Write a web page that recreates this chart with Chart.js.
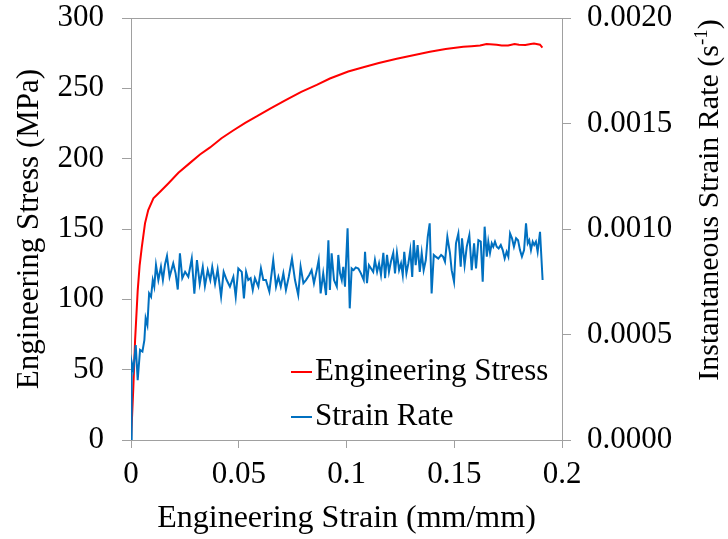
<!DOCTYPE html>
<html>
<head>
<meta charset="utf-8">
<script src="https://cdn.jsdelivr.net/npm/chart.js@4/dist/chart.umd.min.js"></script>
<style>
  html, body { margin: 0; padding: 0; background: #fff; }
  #chart { display: block; }
</style>
</head>
<body>
<canvas id="chart" width="728" height="539"></canvas>
<script>
// stress-strain curve (MPa vs mm/mm)
const stressStrain = [0, 0.0005, 0.0011, 0.0019, 0.0031, 0.004, 0.005, 0.0065, 0.008, 0.0104, 0.0135, 0.0173, 0.022, 0.0274, 0.032, 0.0367, 0.042, 0.0474, 0.053, 0.0583, 0.065, 0.0722, 0.079, 0.0862, 0.0923, 0.1008, 0.1078, 0.115, 0.1233, 0.131, 0.1387, 0.146, 0.1542, 0.158, 0.162, 0.165, 0.1697, 0.172, 0.175, 0.178, 0.18, 0.183, 0.1855, 0.187, 0.1898, 0.1909];
const stress = [0, 17, 38, 71, 106, 124, 137, 154, 163.5, 171.8, 176.5, 182.4, 190, 197, 203, 208, 214.5, 220, 225.5, 230, 236, 242, 247.5, 252.5, 257, 262, 265, 268, 271, 273.5, 276, 278, 279.5, 280, 280.5, 281.5, 281, 280.5, 280.5, 281.5, 281, 280.8, 281.5, 281.8, 281, 279];

// instantaneous strain rate (1/s)
const rateStrain = [
  0, 0.0003, 0.0011, 0.0022, 0.0031, 0.0042, 0.0053, 0.0062, 0.0068, 0.0076, 0.0084, 0.0093, 0.0101, 0.0108, 0.0116, 0.0127, 0.0139, 0.0148, 0.0158, 0.0167, 0.0179, 0.0196, 0.0207, 0.0217, 0.0227, 0.0238, 0.0251, 0.0266, 0.0282, 0.0294, 0.0306, 0.0319, 0.0333, 0.0343, 0.0356, 0.0368, 0.0377, 0.0390, 0.0402, 0.0418, 0.0430, 0.0444,
  0.0459, 0.0475, 0.0486, 0.0498, 0.0514, 0.0524, 0.0534, 0.0544, 0.0555, 0.0565, 0.0575, 0.0591, 0.0603, 0.0614, 0.0626, 0.0642, 0.0660, 0.0673, 0.0684, 0.0695, 0.0707, 0.0719, 0.0732, 0.0747, 0.0761, 0.0776, 0.0787, 0.0800, 0.0812, 0.0827, 0.0838, 0.0849, 0.0862, 0.0871, 0.0880, 0.0892, 0.0905, 0.0916, 0.0923, 0.0931, 0.0942, 0.0955, 0.0962, 0.0970,
  0.0978, 0.0985, 0.0993, 0.1005, 0.1015, 0.1024, 0.1033, 0.1043, 0.1055, 0.1067, 0.1080, 0.1086, 0.1095, 0.1104, 0.1114, 0.1124, 0.1132, 0.1142, 0.1151, 0.1160, 0.1171, 0.1179, 0.1188, 0.1197, 0.1206, 0.1217, 0.1225, 0.1234, 0.1244, 0.1253, 0.1261, 0.1268, 0.1278, 0.1287, 0.1296, 0.1305, 0.1312, 0.1321, 0.1330, 0.1340, 0.1349, 0.1358, 0.1368, 0.1377, 0.1386, 0.1395, 0.1405, 0.1414, 0.1426, 0.1439, 0.1448,
  0.1457, 0.1468, 0.1480, 0.1488, 0.1499, 0.1508, 0.1519, 0.1530, 0.1536, 0.1548, 0.1558, 0.1570, 0.1581, 0.1592, 0.1601, 0.1612, 0.1623, 0.1632, 0.1641, 0.1651, 0.1658, 0.1666, 0.1674, 0.1681, 0.1689, 0.1697, 0.1706, 0.1716, 0.1725, 0.1734, 0.1743, 0.1751, 0.1759, 0.1768, 0.1777, 0.1787, 0.1796, 0.1805, 0.1814, 0.1824, 0.1833, 0.1841, 0.1848, 0.1856, 0.1864, 0.1871, 0.1879, 0.1887, 0.1898, 0.1910
];
const rate = [
  0, 0.000371, 0.000332, 0.00045, 0.000284, 0.000427, 0.000419, 0.000473, 0.000577, 0.000545, 0.000695, 0.000679, 0.000758, 0.000727, 0.000829, 0.000758, 0.000821, 0.000758, 0.000833, 0.000872, 0.000773, 0.000837, 0.00079, 0.000713, 0.000885, 0.000767, 0.000797, 0.000773, 0.00086, 0.000693, 0.000853, 0.00074, 0.00082, 0.00073, 0.000805, 0.000758, 0.00082, 0.00074, 0.000809, 0.00068, 0.000797, 0.000758,
  0.000727, 0.000773, 0.000679, 0.000813, 0.000797, 0.000671, 0.000797, 0.000758, 0.000767, 0.000711, 0.000767, 0.000727, 0.000813, 0.000758, 0.000758, 0.000703, 0.000853, 0.000727, 0.000773, 0.000727, 0.00079, 0.000711, 0.000773, 0.00086, 0.000758, 0.000687, 0.000821, 0.000743, 0.000758, 0.000782, 0.000805, 0.000743, 0.000805, 0.000853, 0.000695, 0.00079, 0.000687, 0.000947, 0.000711, 0.000885, 0.000758, 0.000727, 0.000877, 0.00079,
  0.000758, 0.000821, 0.000727, 0.001003, 0.000624, 0.000813, 0.000805, 0.000818, 0.000813, 0.00079, 0.000758, 0.000892, 0.000743, 0.000829, 0.000813, 0.000797, 0.000853, 0.000797, 0.000837, 0.000782, 0.000887, 0.000767, 0.000877, 0.000797, 0.000845, 0.000887, 0.00079, 0.000887, 0.000805, 0.000837, 0.000782, 0.000892, 0.00079, 0.000837, 0.0009, 0.000773, 0.000947, 0.000829, 0.000924, 0.000797, 0.000887, 0.000805, 0.000853, 0.000963, 0.001027, 0.000695, 0.000877, 0.000869, 0.00086, 0.000877, 0.000869,
  0.000845, 0.000963, 0.000887, 0.000805, 0.00075, 0.000932, 0.000979, 0.000821, 0.000956, 0.000829, 0.000916, 0.000971, 0.000805, 0.000932, 0.000813, 0.000947, 0.00094, 0.00075, 0.001011, 0.000869, 0.00094, 0.000887, 0.000932, 0.000916, 0.00094, 0.000916, 0.000908, 0.000924, 0.0009, 0.00086, 0.000892, 0.000869, 0.000979, 0.000956, 0.000916, 0.000956, 0.000947, 0.0009, 0.000869, 0.0009, 0.001027, 0.000932, 0.000947, 0.0009, 0.00094, 0.000924, 0.00094, 0.000892, 0.000987, 0.000758
];

const seriesLabels = ['Engineering Stress', 'Strain Rate'];
const seriesColors = ['#ff0000', '#0070c0'];
const xTitle = 'Engineering Strain (mm/mm)';
const yTitle = 'Engineering Stress (MPa)';
const y1Title = ['Instantaneous Strain Rate (s', '-1', ')'];

const FONT = "'Liberation Serif', 'Times New Roman', serif";
const AXIS = '#a0a0a0';

// legend inside the plot, lower right
const innerLegend = {
  id: 'innerLegend',
  afterDraw(chart) {
    const ctx = chart.ctx;
    ctx.save();
    ctx.font = '31px ' + FONT;
    ctx.textBaseline = 'middle';
    ctx.textAlign = 'left';
    seriesLabels.forEach((lab, i) => {
      const y = 372 + i * 45;
      ctx.strokeStyle = seriesColors[i];
      ctx.lineWidth = 2;
      ctx.beginPath();
      ctx.moveTo(291, y);
      ctx.lineTo(312, y);
      ctx.stroke();
      ctx.fillStyle = '#000';
      ctx.fillText(lab, 315, y);
    });
    ctx.restore();
  }
};

// right axis title, reads bottom-to-top, with superscript
const rightTitle = {
  id: 'rightTitle',
  afterDraw(chart) {
    const ctx = chart.ctx;
    ctx.save();
    ctx.translate(718, 200);
    ctx.rotate(-Math.PI / 2);
    ctx.fillStyle = '#000';
    ctx.textBaseline = 'alphabetic';
    ctx.textAlign = 'left';
    const big = '30px ' + FONT, small = '19px ' + FONT;
    ctx.font = big; const w0 = ctx.measureText(y1Title[0]).width;
    ctx.font = small; const w1 = ctx.measureText(y1Title[1]).width;
    ctx.font = big; const w2 = ctx.measureText(y1Title[2]).width;
    let x = -(w0 + w1 + w2) / 2;
    ctx.font = big; ctx.fillText(y1Title[0], x, 0); x += w0;
    ctx.font = small; ctx.fillText(y1Title[1], x, -11); x += w1;
    ctx.font = big; ctx.fillText(y1Title[2], x, 0);
    ctx.restore();
  }
};

// fixed axis band sizes so the plot sits where the original has it
const fixVertical = w => s => { s.width = w; s.paddingTop = 18; s.paddingBottom = 0; };

new Chart(document.getElementById('chart'), {
  type: 'line',
  data: {
    datasets: [
      {
        label: seriesLabels[0],
        data: stressStrain.map((x, i) => ({ x: x, y: stress[i] })),
        borderColor: seriesColors[0],
        borderWidth: 2,
        pointRadius: 0,
        tension: 0,
        yAxisID: 'y',
        order: 1,
      },
      {
        label: seriesLabels[1],
        data: rateStrain.map((x, i) => ({ x: x, y: rate[i] })),
        borderColor: seriesColors[1],
        borderWidth: 2,
        pointRadius: 0,
        tension: 0,
        yAxisID: 'y1',
        order: 0,
      },
    ],
  },
  options: {
    responsive: false,
    animation: false,
    devicePixelRatio: 1,
    layout: { padding: 0 },
    plugins: { legend: { display: false }, tooltip: { enabled: false } },
    scales: {
      x: {
        type: 'linear',
        min: 0,
        max: 0.2,
        ticks: {
          stepSize: 0.05,
          color: '#000',
          padding: 8,
          font: { family: FONT, size: 31 },
          callback: v => String(Number(v.toFixed(2))),
        },
        grid: { drawOnChartArea: false, tickLength: 8, color: AXIS },
        border: { color: AXIS },
        title: { display: true, text: xTitle, color: '#000', font: { family: FONT, size: 32 }, padding: { top: 0, bottom: 1 } },
        afterFit: s => { s.height = 99; s.paddingLeft = 0; s.paddingRight = 0; },
      },
      y: {
        position: 'left',
        min: 0,
        max: 300,
        ticks: { stepSize: 50, color: '#000', padding: 18, font: { family: FONT, size: 31 } },
        grid: {
          tickLength: 9,
          tickColor: AXIS,
          color: c => (c.tick && c.tick.value === 300 ? AXIS : 'rgba(0,0,0,0)'),
        },
        border: { color: AXIS },
        title: { display: true, text: yTitle, color: '#000', font: { family: FONT, size: 31 }, padding: { top: 11, bottom: 0 } },
        afterFit: fixVertical(131),
      },
      y1: {
        position: 'right',
        min: 0,
        max: 0.002,
        ticks: {
          stepSize: 0.0005,
          color: '#000',
          padding: 16,
          font: { family: FONT, size: 31 },
          callback: v => v.toFixed(4),
        },
        grid: { drawOnChartArea: false, tickLength: 9, color: AXIS },
        border: { color: AXIS },
        afterFit: fixVertical(166),
      },
    },
  },
  plugins: [innerLegend, rightTitle],
});
</script>
</body>
</html>
